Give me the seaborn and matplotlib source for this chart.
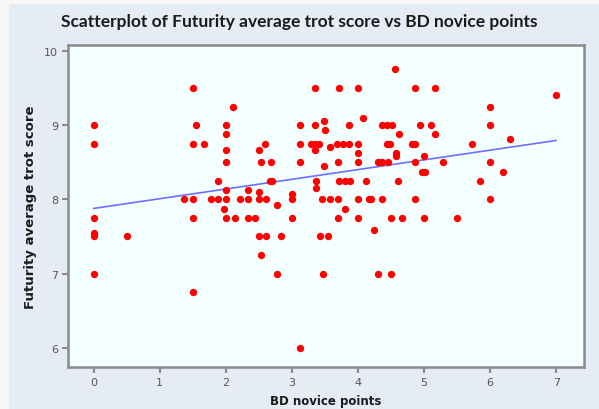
"""Scatterplot of Futurity average trot score vs BD novice points."""

import matplotlib

matplotlib.use("Agg")
import matplotlib.pyplot as plt
import pandas as pd
import seaborn as sns
from matplotlib.patches import Rectangle

# values
bd_novice_points = [
    0, 0, 0, 0, 0, 0, 0.5,
    1.5, 1.55, 1.5, 1.67, 1.37, 1.5, 1.5, 1.5,
    2.11, 2.0, 2.0, 2.0, 2.0, 1.89, 2.0, 1.78, 1.89, 2.0, 1.97, 2.0, 2.14,
    2.22, 2.34, 2.34, 2.34, 2.44,
    4.56, 3.35, 3.71, 4.0, 4.87, 5.17, 4.08,
    3.13, 3.35, 3.49, 3.5, 3.86, 4.36, 4.44, 4.51, 4.94, 5.1, 5.17, 4.62,
    2.59, 2.5, 3.13, 3.29, 3.35, 3.41, 3.35, 3.57, 3.69, 3.78, 3.86, 4.0, 4.0,
    4.44, 4.49, 4.82, 4.86, 4.57, 4.57, 5.0,
    2.54, 2.69, 3.12, 3.49, 3.70, 4.0, 4.31, 4.36, 4.46, 4.86, 5.28, 4.97, 5.02,
    2.67, 2.70, 3.37, 3.37, 3.72, 3.80, 3.88, 4.12, 4.6,
    2.5, 2.5, 2.61, 2.77, 3.0, 3.0, 3.46, 3.58, 3.70, 4.0, 4.16, 4.2, 4.37, 4.86,
    3.8, 3.0, 3.70, 4.0, 4.5, 4.67, 5.0, 4.25,
    2.5, 2.61, 2.84, 3.43, 3.54, 2.54, 2.77, 3.47, 4.31, 4.5, 3.12,
    7.0, 6.0, 6.0, 5.73, 6.3, 6.0, 6.2, 5.84, 6.0, 5.5,
]
trot_score = [
    9.0, 8.75, 7.75, 7.5, 7.55, 7.0, 7.5,
    9.5, 9.0, 8.75, 8.75, 8.0, 8.0, 7.75, 6.75,
    9.25, 9.0, 8.875, 8.67, 8.5, 8.25, 8.13, 8.0, 8.0, 8.0, 7.87, 7.75, 7.75,
    8.0, 8.0, 8.13, 7.75, 7.75,
    9.75, 9.5, 9.5, 9.5, 9.5, 9.5, 9.1,
    9.0, 9.0, 9.05, 8.93, 9.0, 9.0, 9.0, 9.0, 9.0, 9.0, 8.875, 8.875,
    8.75, 8.67, 8.75, 8.75, 8.75, 8.75, 8.67, 8.7, 8.75, 8.75, 8.75, 8.75, 8.62,
    8.75, 8.75, 8.75, 8.75, 8.62, 8.58, 8.58,
    8.5, 8.5, 8.5, 8.45, 8.5, 8.5, 8.5, 8.5, 8.5, 8.5, 8.5, 8.375, 8.375,
    8.25, 8.25, 8.25, 8.15, 8.25, 8.25, 8.25, 8.25, 8.25,
    8.1, 8.0, 8.0, 7.92, 8.07, 8.0, 8.0, 8.0, 8.0, 8.0, 8.0, 8.0, 8.0, 8.0,
    7.87, 7.75, 7.75, 7.75, 7.75, 7.75, 7.75, 7.58,
    7.5, 7.5, 7.5, 7.5, 7.5, 7.25, 7.0, 7.0, 7.0, 7.0, 6.0,
    9.41, 9.25, 9.0, 8.75, 8.81, 8.5, 8.375, 8.25, 8.0, 7.75,
]
x_ticks = [0, 1, 2, 3, 4, 5, 6, 7]
y_ticks = [6, 7, 8, 9, 10]

TITLE = "Scatterplot of Futurity average trot score vs BD novice points"
X_LABEL = "BD novice points"
Y_LABEL = "Futurity average trot score"

OUTER_BG = "#E6ECF6"
PLOT_BG = "#F4FFFF"
SPINE = "#8A8A8A"
TICK_TEXT = "#555555"


def main() -> None:
    sns.set_style("ticks")
    plt.rcParams["font.family"] = ["DejaVu Sans"]

    df = pd.DataFrame({"bd": bd_novice_points, "trot": trot_score})

    fig = plt.figure(figsize=(5.99, 4.10), dpi=100, facecolor="#F7F7F7")
    fig.patches.append(
        Rectangle((9 / 599, 0), 1, 1 - 5 / 410, transform=fig.transFigure,
                  facecolor=OUTER_BG, edgecolor="none", zorder=-5)
    )
    ax = fig.add_axes([68 / 599, 1 - 368 / 410, (584 - 68) / 599, (368 - 46) / 410])
    ax.set_zorder(2)
    ax.set_facecolor(PLOT_BG)

    sns.regplot(
        data=df, x="bd", y="trot", ax=ax, ci=None,
        scatter_kws={"color": "#FF0000", "s": 28, "alpha": 1, "linewidths": 0, "zorder": 3},
        line_kws={"color": "#6E6EFF", "linewidth": 1.2, "zorder": 2},
    )

    ax.set_xlim(-0.386, 7.42)
    ax.set_ylim(5.74, 10.08)
    ax.set_xticks(x_ticks)
    ax.set_yticks(y_ticks)

    for side in ["left", "bottom", "right", "top"]:
        ax.spines[side].set_color(SPINE)
        ax.spines[side].set_linewidth(1.8)
        ax.spines[side].set_visible(True)

    ax.tick_params(axis="both", colors=SPINE, labelcolor=TICK_TEXT, length=4, width=1.5,
                   labelsize=8, pad=3)

    fig.text(0.5, 1 - 22 / 410, TITLE, ha="center", va="center",
             fontsize=12.5, fontweight="bold", color="#1A1A1A",
             family=["Lato", "DejaVu Sans"])
    ax.set_xlabel(X_LABEL, fontsize=8.5, fontweight="bold", color="#1A1A1A", labelpad=5)
    ax.set_ylabel(Y_LABEL, fontsize=9.5, fontweight="bold", color="#1A1A1A", labelpad=5)

    fig.savefig("out.png", dpi=100, facecolor=fig.get_facecolor())
    plt.close(fig)


if __name__ == "__main__":
    main()
